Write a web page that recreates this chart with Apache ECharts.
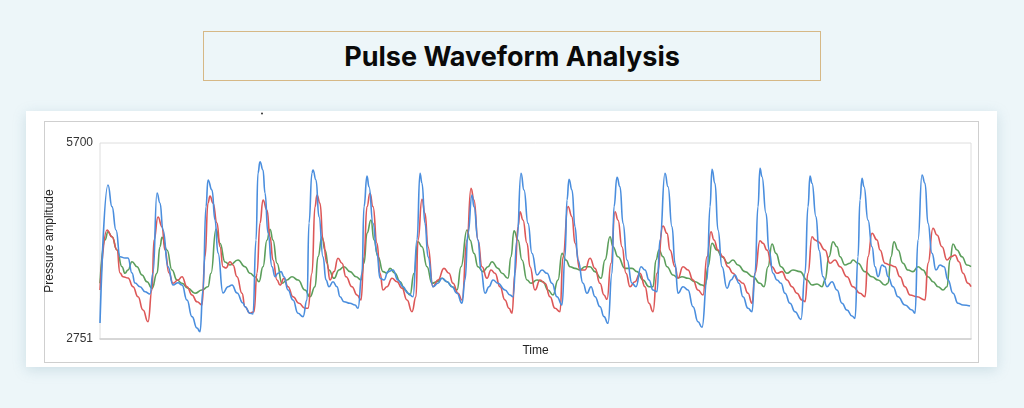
<!DOCTYPE html>
<html>
<head>
<meta charset="utf-8">
<script src="https://cdn.jsdelivr.net/npm/echarts@6/dist/echarts.min.js"></script>
<style>
  html, body { margin: 0; padding: 0; }
  body { width: 1024px; height: 408px; background: #edf6f9; position: relative; overflow: hidden; font-family: Inter, "Open Sans", sans-serif; }
  .title-box {
    position: absolute; left: 203px; top: 31px; width: 616px; height: 47px;
    border: 1px solid #d6b886; display: flex; align-items: center; justify-content: center;
    font-family: Inter, "Open Sans", sans-serif; font-weight: 700; font-size: 27px; color: #0a0a0a;
    padding-top: 1px; box-sizing: content-box;
  }
  .card {
    position: absolute; left: 26px; top: 111px; width: 971px; height: 256px;
    background: #fff; box-shadow: 0 3px 12px rgba(120, 160, 180, 0.28);
  }
  .frame {
    position: absolute; left: 18px; top: 10px; width: 935px; height: 242px;
    border: 1.5px solid #cfcfcf; box-sizing: border-box;
  }
  #chart { position: absolute; left: 0; top: 0; width: 1024px; height: 408px; }
</style>
</head>
<body>
<div class="title-box">Pulse Waveform Analysis</div>
<div class="card"><div class="frame"></div></div>
<div id="chart"></div>
<script>
// y axis ticks (only the ends are labelled)
const yTicks = [2751, 5700];

// blue series: sample time / pressure
const blueT = [0, 8, 12, 16, 20, 25, 28, 32, 35, 40, 45, 50, 53, 57, 60, 63, 68, 73, 78, 82, 87, 92, 97, 100,
  103, 106, 108, 112, 115, 118, 123, 128, 132, 137, 143, 145, 150, 153, 156, 158, 160, 163, 165, 168, 172,
  175, 178, 181, 184, 188, 193, 198, 203, 207, 209, 212, 213, 216, 219, 223, 226, 229, 233, 237, 240, 244,
  250, 255, 258, 262, 264, 267, 269, 273, 277, 280, 284, 288, 293, 298, 303, 308, 313, 317, 320, 322, 325,
  328, 333, 338, 342, 347, 352, 357, 362, 365, 368, 372, 374, 378, 381, 385, 389, 393, 398, 405, 410, 413,
  417, 421, 424, 428, 432, 437, 442, 447, 452, 457, 462, 465, 467, 469, 472, 475, 478, 483, 487, 491, 495,
  500, 504, 508, 512, 514, 517, 520, 523, 527, 532, 536, 541, 545, 549, 553, 557, 560, 565, 568, 572, 575,
  578, 583, 588, 593, 598, 602, 607, 610, 612, 615, 618, 622, 627, 631, 635, 639, 643, 648, 652, 655, 658,
  660, 662, 666, 669, 673, 677, 681, 685, 690, 695, 701, 705, 708, 710, 712, 716, 719, 723, 727, 732, 737,
  742, 747, 752, 755, 758, 760, 762, 764, 768, 772, 775, 778, 782, 785, 788, 793, 798, 805, 812, 815, 818,
  822, 825, 828, 832, 836, 840, 844, 848, 853, 858, 863, 870];
const blueV = [2992, 5068, 4742, 4391, 3989, 3970, 3970, 3744, 3593, 3538, 3463, 3428, 3744, 4948, 4797, 4391,
  3839, 3563, 3598, 3563, 3338, 3087, 2917, 2861, 3488, 4742, 5143, 4993, 4541, 4045, 3444, 3538, 3563, 3444,
  3293, 3237, 3138, 3127, 4241, 5249, 5419, 5294, 4948, 4346, 3839, 3688, 3740, 3764, 3688, 3488, 3338, 3138,
  3087, 3338, 4496, 5249, 5294, 5143, 4591, 3989, 3639, 3538, 3613, 3538, 3387, 3312, 3288, 3263, 3213, 3740,
  4742, 5203, 5042, 4492, 4040, 3664, 3639, 3764, 3789, 3639, 3538, 3439, 3387, 4241, 5244, 5094, 4492, 3989,
  3538, 3589, 3664, 3613, 3538, 3439, 3288, 3639, 4341, 4918, 4742, 4241, 3789, 3439, 3538, 3639, 3589, 3488,
  3413, 3387, 4241, 5244, 4993, 4492, 4040, 3714, 3789, 3740, 3589, 3387, 3263, 3989, 4842, 5154, 4993, 4441,
  3940, 3589, 3439, 3538, 3387, 3237, 3087, 2987, 3740, 4742, 5184, 5042, 4492, 3940, 3589, 3538, 3839, 3789,
  3639, 3488, 3463, 4241, 5244, 5042, 4441, 3890, 3439, 3538, 3488, 3237, 3011, 2927, 3639, 4742, 5304, 5094,
  4391, 3839, 3514, 3639, 3714, 3589, 3387, 3213, 3162, 3740, 4742, 5319, 5193, 4642, 4090, 3740, 3639, 3589,
  3439, 3288, 3162, 3047, 3740, 4742, 5203, 5094, 4591, 4090, 3688, 3538, 3613, 3488, 3288, 3187, 3097, 3062,
  3989, 4842, 5169, 5042, 4541, 4140, 3839, 3688, 3864, 3839, 3688, 3538, 3387, 3263, 3187, 3138, 4241, 5218,
  5094, 4492, 4040, 3789, 3864, 3839, 3639, 3439, 3288, 3263, 3248];

// red series
const redT = [0, 7, 12, 17, 20, 23, 28, 33, 38, 43, 48, 52, 54, 58, 62, 65, 69, 73, 78, 82, 87, 92, 97, 102,
  105, 108, 110, 113, 117, 120, 123, 126, 130, 133, 137, 142, 145, 150, 154, 157, 160, 163, 167, 170, 173, 177,
  180, 184, 188, 193, 199, 205, 208, 212, 215, 217, 220, 223, 227, 230, 234, 238, 242, 246, 252, 257, 261, 264,
  267, 270, 273, 277, 280, 283, 287, 292, 297, 302, 307, 312, 316, 318, 322, 325, 328, 333, 338, 344, 349, 353,
  358, 362, 367, 371, 374, 378, 382, 387, 391, 395, 400, 405, 409, 412, 415, 418, 420, 423, 427, 430, 435, 440,
  445, 450, 455, 460, 463, 468, 472, 475, 480, 485, 490, 495, 500, 504, 507, 511, 515, 518, 522, 526, 530, 535,
  540, 545, 549, 553, 557, 563, 567, 570, 575, 578, 583, 588, 593, 598, 603, 607, 611, 614, 618, 623, 628, 633,
  638, 643, 648, 652, 655, 660, 663, 667, 672, 677, 682, 687, 692, 697, 702, 705, 708, 712, 715, 718, 725, 730,
  735, 740, 747, 753, 760, 765, 768, 772, 777, 780, 785, 790, 795, 800, 805, 810, 817, 825, 828, 833, 837, 842,
  847, 851, 855, 859, 863, 868, 871];
const redV = [3488, 4391, 4290, 4090, 3744, 3688, 3669, 3538, 3387, 3187, 3011, 3488, 4241, 4587, 4441, 4090,
  3744, 3589, 3639, 3688, 3538, 3413, 3312, 3263, 3989, 4797, 4903, 4797, 4496, 4140, 3839, 3819, 3914, 3864,
  3688, 3439, 3237, 3138, 3162, 3740, 4492, 4842, 4692, 4290, 3940, 3639, 3563, 3664, 3538, 3387, 3288, 3213,
  3213, 3740, 4742, 4918, 4793, 4241, 3890, 3639, 3764, 3965, 3890, 3688, 3538, 3413, 3338, 3989, 4742, 4943,
  4742, 4191, 3740, 3488, 3538, 3664, 3613, 3514, 3338, 3162, 3387, 4241, 4853, 4642, 4140, 3538, 3639, 3814,
  3740, 3589, 3439, 3338, 4241, 5018, 4842, 4241, 3839, 3664, 3789, 3740, 3538, 3338, 3213, 3138, 3740, 4441,
  4666, 4541, 4191, 3839, 3488, 3639, 3589, 3387, 3213, 3162, 3989, 4742, 4591, 4191, 3789, 3789, 3965, 3814,
  3589, 3413, 3348, 3890, 4666, 4541, 4140, 3740, 3538, 3613, 3740, 3538, 3288, 3162, 3740, 4451, 4341, 4090,
  3839, 3669, 3839, 3789, 3639, 3488, 3413, 3989, 4365, 4241, 4090, 3989, 3839, 3740, 3639, 3589, 3439, 3288,
  3740, 4230, 4191, 4090, 3839, 3740, 3764, 3639, 3538, 3439, 3338, 3312, 3740, 4290, 4241, 4215, 4090, 3890,
  3940, 3839, 3688, 3538, 3439, 3387, 3989, 4341, 4241, 4090, 3890, 3864, 3839, 3688, 3538, 3413, 3387, 3338,
  3890, 4417, 4316, 4140, 3940, 3989, 4015, 3914, 3740, 3589, 3538];

// green series
const greenT = [0, 5, 8, 12, 17, 22, 25, 28, 32, 37, 42, 47, 52, 57, 60, 62, 67, 72, 77, 82, 88, 95, 102, 108,
  111, 116, 120, 125, 130, 138, 145, 150, 155, 159, 163, 167, 170, 173, 177, 182, 187, 192, 198, 205, 210, 215,
  218, 222, 225, 229, 234, 239, 244, 250, 256, 261, 264, 267, 271, 274, 278, 283, 287, 290, 295, 300, 305, 310,
  314, 318, 322, 327, 332, 337, 342, 347, 352, 357, 361, 367, 370, 374, 378, 383, 388, 392, 398, 402, 408, 411,
  414, 418, 422, 427, 431, 437, 443, 448, 453, 458, 462, 466, 470, 475, 480, 485, 490, 495, 501, 505, 510, 513,
  518, 525, 532, 537, 543, 549, 553, 556, 559, 563, 567, 573, 578, 582, 588, 595, 602, 605, 608, 612, 617, 622,
  628, 633, 638, 645, 653, 660, 664, 668, 672, 676, 681, 687, 693, 700, 707, 712, 717, 722, 725, 729, 733, 737,
  740, 745, 750, 753, 758, 765, 772, 778, 785, 788, 791, 794, 798, 803, 808, 813, 818, 823, 828, 833, 838, 843,
  847, 850, 853, 857, 862, 867, 871];
const greenV = [3589, 4241, 4365, 4290, 4090, 3839, 3740, 3789, 3914, 3839, 3714, 3613, 3514, 3740, 4140, 4281,
  4090, 3789, 3639, 3589, 3514, 3439, 3488, 3538, 3740, 4402, 4191, 3910, 3864, 3940, 3839, 3740, 3688, 3613,
  3839, 4241, 4402, 4241, 3890, 3589, 3639, 3688, 3639, 3488, 3387, 3538, 3989, 4290, 4090, 3789, 3664, 3789,
  3839, 3764, 3688, 3639, 3890, 4341, 4541, 4241, 3989, 3764, 3740, 3814, 3740, 3613, 3488, 3413, 3740, 4215,
  4140, 3839, 3589, 3613, 3664, 3613, 3538, 3488, 3839, 4391, 4241, 4040, 3839, 3764, 3839, 3914, 3814, 3740,
  3664, 3989, 4380, 4241, 3940, 3639, 3589, 3639, 3613, 3488, 3413, 3639, 4040, 3940, 3839, 3814, 3789, 3839,
  3839, 3764, 3664, 3940, 4290, 4140, 3989, 3814, 3814, 3764, 3639, 3538, 3538, 3940, 4090, 3989, 3839, 3714,
  3669, 3688, 3664, 3613, 3563, 3548, 3839, 4191, 4090, 3989, 3890, 3940, 3864, 3764, 3688, 3589, 3538, 3839,
  4180, 4040, 3839, 3740, 3789, 3764, 3639, 3563, 3579, 3538, 3639, 3989, 4215, 4140, 3989, 3864, 3890, 3940,
  3890, 3764, 3688, 3639, 3563, 3589, 3989, 4215, 4090, 3890, 3789, 3764, 3839, 3789, 3688, 3613, 3538, 3488,
  3538, 3940, 4180, 4090, 3989, 3864, 3839];

function zip(t, v) {
    return t.map((x, i) => [x, v[i]]);
}

const chart = echarts.init(document.getElementById('chart'), null, { renderer: 'canvas' });

function lineSeries(name, t, v, color) {
    return {
        name: name,
        type: 'line',
        data: zip(t, v),
        smooth: 0.5,
        smoothMonotone: 'x',
        showSymbol: false,
        lineStyle: { color: color, width: 1.6 },
        itemStyle: { color: color }
    };
}

const axisFont = 'Liberation Sans, Arial, sans-serif';

chart.setOption({
    backgroundColor: 'transparent',
    animation: false,
    grid: {
        left: 100, right: 53, top: 143, bottom: 69,
        show: true, borderColor: '#dedede', borderWidth: 1
    },
    xAxis: {
        type: 'value',
        min: 0,
        max: 871,
        name: 'Time',
        nameLocation: 'middle',
        nameGap: 6,
        nameTextStyle: { color: '#222', fontSize: 12, fontFamily: axisFont },
        axisLine: { show: true, lineStyle: { color: '#cfcfcf', width: 1.5 } },
        axisTick: { show: false },
        axisLabel: { show: false },
        splitLine: { show: false }
    },
    yAxis: {
        type: 'value',
        min: yTicks[0],
        max: yTicks[1],
        name: 'Pressure amplitude',
        nameLocation: 'middle',
        nameRotate: 90,
        nameGap: 44,
        nameTextStyle: { color: '#222', fontSize: 12, fontFamily: axisFont },
        axisLine: { show: false },
        axisTick: { show: false },
        splitLine: { show: false },
        axisLabel: {
            customValues: yTicks,
            formatter: (val) => String(val),
            margin: 7,
            color: '#333',
            fontSize: 12,
            fontFamily: axisFont
        }
    },
    graphic: [
        { type: 'circle', shape: { cx: 262, cy: 113.5, r: 1 }, style: { fill: '#333' } }
    ],
    series: [
        lineSeries('Green', greenT, greenV, '#5b9e5b'),
        lineSeries('Red', redT, redV, '#dd5757'),
        lineSeries('Blue', blueT, blueV, '#4a8ede')
    ]
});
</script>
</body>
</html>
